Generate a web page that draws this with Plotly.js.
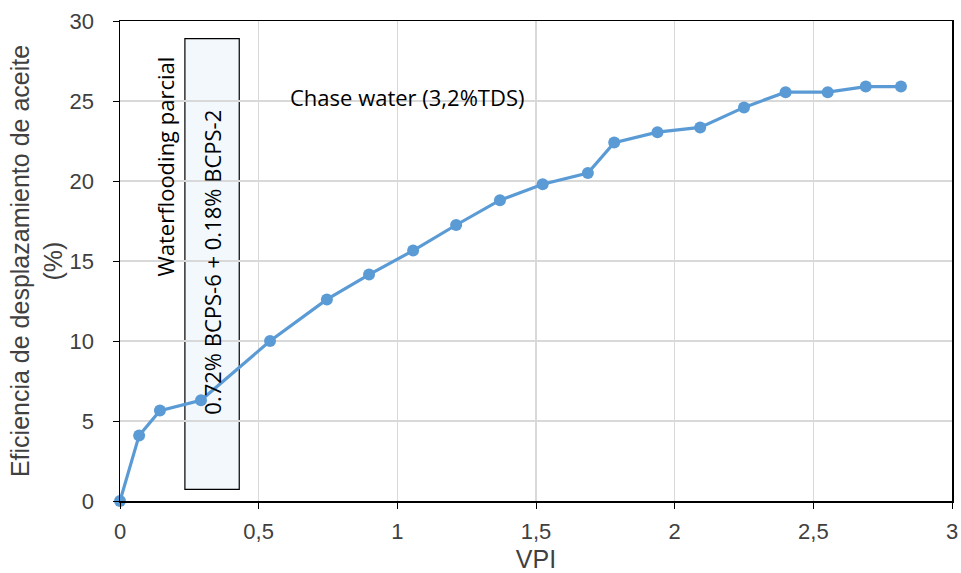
<!DOCTYPE html>
<html>
<head>
<meta charset="utf-8">
<script src="https://cdn.plot.ly/plotly-3.0.1.min.js"></script>
<style>
  html, body { margin: 0; padding: 0; background: #fff; }
  #chart { width: 961px; height: 573px; }
</style>
</head>
<body>
<div id="chart"></div>
<script>
// Pore volumes injected (VPI) and oil displacement efficiency (%)
const vpi = [0, 0.069, 0.144, 0.292, 0.541, 0.746, 0.898, 1.057, 1.212, 1.370, 1.524, 1.687,
             1.782, 1.938, 2.092, 2.250, 2.400, 2.552, 2.689, 2.816];
const efficiency = [0, 4.1, 5.65, 6.3, 10.0, 12.6, 14.15, 15.65, 17.25, 18.8, 19.8, 20.5,
                    22.4, 23.05, 23.35, 24.6, 25.55, 25.55, 25.9, 25.9];

const xTicks = [0, 0.5, 1, 1.5, 2, 2.5, 3];
const xTickText = ['0', '0,5', '1', '1,5', '2', '2,5', '3'];
const yTicks = [0, 5, 10, 15, 20, 25, 30];

// Slug injection window (VPI range and height of the framed box)
const slugStart = 0.234, slugEnd = 0.430;
const slugBottom = 0.73, slugTop = 28.9;

const trace = {
  x: vpi,
  y: efficiency,
  type: 'scatter',
  mode: 'lines+markers',
  line: { color: '#5B9BD5', width: 3.2 },
  marker: { color: '#5B9BD5', size: 12 },
  cliponaxis: false,
  hoverinfo: 'x+y'
};

const sansFamily = 'Liberation Sans, Arial, sans-serif';
const tickFont = { family: sansFamily, size: 22, color: '#404040' };
const titleFont = { family: sansFamily, size: 25, color: '#404040' };
const noteFont = { family: 'Open Sans, sans-serif', size: 22, color: '#000' };

const layout = {
  width: 961,
  height: 573,
  margin: { l: 120, r: 9, t: 21, b: 72 },
  paper_bgcolor: '#fff',
  plot_bgcolor: '#fff',
  showlegend: false,
  xaxis: {
    range: [0, 3],
    tickvals: xTicks,
    ticktext: xTickText,
    tickfont: tickFont,
    ticks: 'outside',
    ticklen: 6,
    tickcolor: '#000',
    ticklabelstandoff: 4,
    showline: true,
    linecolor: '#000',
    linewidth: 1.5,
    mirror: true,
    showgrid: true,
    gridcolor: '#d9d9d9',
    gridwidth: 1.5,
    zeroline: false,
    title: { text: 'VPI', font: titleFont, standoff: 10 }
  },
  yaxis: {
    range: [0, 30],
    tickvals: yTicks,
    tickfont: tickFont,
    ticks: 'outside',
    ticklen: 6,
    tickcolor: '#000',
    ticklabelstandoff: 14,
    showline: true,
    linecolor: '#000',
    linewidth: 1.5,
    mirror: true,
    showgrid: true,
    gridcolor: '#d9d9d9',
    gridwidth: 1.5,
    zeroline: false,
    title: { text: 'Eficiencia de desplazamiento de aceite<br>(%)', font: titleFont, standoff: 0 }
  },
  shapes: [{
    type: 'rect',
    xref: 'x', yref: 'y',
    x0: slugStart, x1: slugEnd, y0: slugBottom, y1: slugTop,
    fillcolor: '#F3F8FC',
    line: { color: '#000', width: 1.2 },
    layer: 'below'
  }],
  annotations: [
    {
      text: 'Waterflooding parcial',
      xref: 'x', yref: 'y',
      x: 0.162, y: 20.9,
      textangle: -90,
      showarrow: false,
      font: noteFont
    },
    {
      text: '0.72% BCPS-6 + 0.18% BCPS-2',
      xref: 'x', yref: 'y',
      x: 0.332, y: 14.9,
      textangle: -90,
      showarrow: false,
      font: noteFont
    },
    {
      text: 'Chase water (3,2%TDS)',
      xref: 'x', yref: 'y',
      x: 1.035, y: 25.25,
      showarrow: false,
      font: noteFont
    }
  ]
};

Plotly.newPlot('chart', [trace], layout, { displayModeBar: false, staticPlot: true });
</script>
</body>
</html>
